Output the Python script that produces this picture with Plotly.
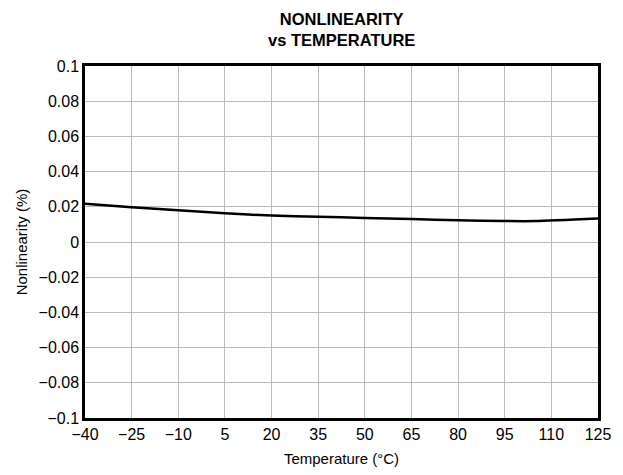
import plotly.graph_objects as go

# Nonlinearity vs temperature
temperature = [-40, -25, -10, 5, 20, 35, 50, 65, 80, 95, 105, 125]
nonlinearity = [0.0218, 0.0198, 0.018, 0.0163, 0.015, 0.0143, 0.0137, 0.013, 0.0123, 0.0119, 0.0119, 0.0133]

x_ticks = list(range(-40, 126, 15))
y_ticks = [-0.1, -0.08, -0.06, -0.04, -0.02, 0, 0.02, 0.04, 0.06, 0.08, 0.1]
y_labels = ['\u22120.1', '\u22120.08', '\u22120.06', '\u22120.04', '\u22120.02', '0',
            '0.02', '0.04', '0.06', '0.08', '0.1']
x_labels = [str(t).replace('-', '\u2212') for t in x_ticks]

fig = go.Figure()
fig.add_trace(go.Scatter(
    x=temperature, y=nonlinearity, mode='lines',
    line=dict(color='black', width=2.5, shape='spline', smoothing=0.6),
    showlegend=False
))

# page body has an 8px margin, so the figure is sized to fit inside it
fig.update_layout(
    width=607, height=459,
    margin=dict(l=77, r=17, t=58, b=49),
    paper_bgcolor='white', plot_bgcolor='white',
    font=dict(family='Liberation Sans, Arial, sans-serif', color='black', size=16),
)
fig.add_annotation(
    text='<b>NONLINEARITY<br>vs TEMPERATURE</b>', xref='paper', yref='paper',
    x=0.5, y=1, xanchor='center', yanchor='bottom', yshift=15,
    showarrow=False, font=dict(size=16.5)
)
fig.update_xaxes(
    range=[-40, 125], tickvals=x_ticks, ticktext=x_labels,
    showgrid=True, gridcolor='#bbbbbb', gridwidth=1,
    showline=True, linecolor='black', linewidth=2.5, mirror=True,
    ticks='', zeroline=False, automargin=False,
    title=dict(text='Temperature (°C)', font=dict(size=15), standoff=16),
)
fig.update_yaxes(
    range=[-0.1, 0.1], tickvals=y_ticks, ticktext=y_labels,
    showgrid=True, gridcolor='#bbbbbb', gridwidth=1,
    showline=True, linecolor='black', linewidth=2.5, mirror=True,
    ticks='', zeroline=False, automargin=False,
    title=dict(text='Nonlinearity (%)', font=dict(size=15), standoff=8),
)

fig.write_html("out.html")
